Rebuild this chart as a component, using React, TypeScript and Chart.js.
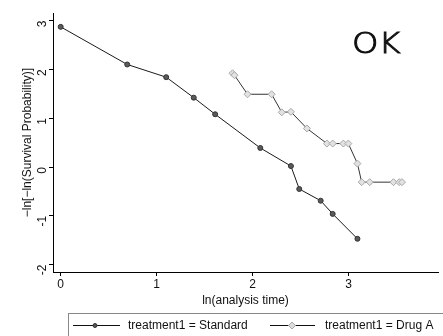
import React, { useEffect, useRef } from "react";
import { Chart, registerables } from "chart.js";

Chart.register(...registerables);

// ---- data ----
const standardX = [0, 0.693, 1.099, 1.386, 1.609, 2.079, 2.398, 2.485, 2.708, 2.833, 3.091];
const standardY = [2.87, 2.1, 1.84, 1.42, 1.08, 0.39, 0.02, -0.45, -0.69, -0.96, -1.47];
const drugX = [1.79, 1.81, 1.946, 2.197, 2.303, 2.398, 2.565, 2.773, 2.833, 2.944, 2.996, 3.091, 3.135, 3.219, 3.466, 3.526, 3.555];
const drugY = [1.92, 1.88, 1.49, 1.49, 1.12, 1.13, 0.79, 0.48, 0.48, 0.48, 0.48, 0.07, -0.31, -0.31, -0.31, -0.31, -0.31];
const xTicks = [0, 1, 2, 3];
const yTicks = [-2, -1, 0, 1, 2, 3];
const seriesLabels = ["treatment1 = Standard", "treatment1 = Drug A"];
const xTitle = "ln(analysis time)";
const yTitle = "\u2212ln[\u2212ln(Survival Probability)]";
const annotationText = "OK";

const FONT = "'Liberation Sans', Arial, Helvetica, sans-serif";

export default function App() {
  const ref = useRef<HTMLCanvasElement | null>(null);

  useEffect(() => {
    document.body.style.margin = "0";
    const canvas = ref.current;
    if (!canvas) return;

    const overlay = {
      id: "overlay",
      afterDraw(chart: any) {
        const ctx = chart.ctx;
        ctx.save();
        // annotation
        ctx.save();
        ctx.fillStyle = "#111";
        ctx.strokeStyle = "#111";
        ctx.lineWidth = 0.9;
        ctx.font = `200 28px 'DejaVu Sans', ${FONT}`;
        ctx.textAlign = "left";
        ctx.textBaseline = "alphabetic";
        ctx.translate(352, 53);
        ctx.scale(1.2, 1);
        ctx.fillText(annotationText, 0, 0);
        ctx.strokeText(annotationText, 0, 0);
        ctx.restore();

        // legend box
        ctx.strokeStyle = "#888";
        ctx.lineWidth = 1;
        ctx.strokeRect(68.5, 313.5, 400, 40);

        const ly = 325.5;
        // Standard entry
        ctx.strokeStyle = "#111";
        ctx.beginPath();
        ctx.moveTo(73, ly);
        ctx.lineTo(120, ly);
        ctx.stroke();
        ctx.fillStyle = "#555";
        ctx.strokeStyle = "#333";
        ctx.beginPath();
        ctx.arc(95, ly, 2, 0, Math.PI * 2);
        ctx.fill();
        ctx.stroke();
        // Drug A entry
        ctx.strokeStyle = "#111";
        ctx.beginPath();
        ctx.moveTo(270, ly);
        ctx.lineTo(315, ly);
        ctx.stroke();
        ctx.fillStyle = "#ddd";
        ctx.strokeStyle = "#aaa";
        ctx.beginPath();
        ctx.moveTo(292, ly - 3.5);
        ctx.lineTo(295.5, ly);
        ctx.lineTo(292, ly + 3.5);
        ctx.lineTo(288.5, ly);
        ctx.closePath();
        ctx.fill();
        ctx.stroke();

        ctx.fillStyle = "#111";
        ctx.font = `12px ${FONT}`;
        ctx.textBaseline = "middle";
        ctx.fillText(seriesLabels[0], 128, ly);
        ctx.fillText(seriesLabels[1], 325, ly);
        ctx.restore();
      },
    };

    const chart = new Chart(canvas, {
      type: "scatter",
      data: {
        datasets: [
          {
            label: seriesLabels[0],
            data: standardX.map((x, i) => ({ x, y: standardY[i] })),
            showLine: true,
            borderColor: "#1a1a1a",
            borderWidth: 1,
            pointStyle: "circle",
            pointRadius: 2.5,
            pointBackgroundColor: "#5a5a5a",
            pointBorderColor: "#333",
            pointBorderWidth: 1,
          },
          {
            label: seriesLabels[1],
            data: drugX.map((x, i) => ({ x, y: drugY[i] })),
            showLine: true,
            borderColor: "#333",
            borderWidth: 1,
            pointStyle: "rectRot",
            pointRadius: 3.5,
            pointBackgroundColor: "#e2e2e2",
            pointBorderColor: "#a8a8a8",
            pointBorderWidth: 1,
          },
        ],
      },
      options: {
        animation: false,
        responsive: false,
        maintainAspectRatio: false,
        layout: { padding: { top: 7, right: 0, bottom: 28, left: 0 } },
        plugins: {
          legend: { display: false },
          tooltip: { enabled: false },
        },
        scales: {
          x: {
            type: "linear",
            min: -0.08,
            max: 3.93,
            afterBuildTicks: (s: any) => {
              s.ticks = xTicks.map((v) => ({ value: v }));
            },
            afterFit: (s: any) => {
              s.height = 36;
            },
            grid: { drawOnChartArea: false, drawTicks: true, tickLength: 4, color: "#000" },
            border: { display: true, color: "#000", width: 1 },
            ticks: {
              color: "#111",
              font: { family: FONT, size: 12 },
              padding: 1,
              maxRotation: 0,
            },
            title: {
              display: true,
              text: xTitle,
              color: "#111",
              font: { family: FONT, size: 12 },
              padding: { top: 0, bottom: 0 },
            },
          },
          y: {
            type: "linear",
            min: -2.15,
            max: 3.15,
            afterBuildTicks: (s: any) => {
              s.ticks = yTicks.map((v) => ({ value: v }));
            },
            afterFit: (s: any) => {
              s.width = 53;
            },
            grid: { drawOnChartArea: false, drawTicks: true, tickLength: 4, color: "#000" },
            border: { display: true, color: "#000", width: 1 },
            ticks: {
              color: "#111",
              font: { family: FONT, size: 12 },
              padding: 6,
              minRotation: 90,
              maxRotation: 90,
            },
            title: {
              display: true,
              text: yTitle,
              color: "#111",
              font: { family: FONT, size: 12 },
              padding: { top: 20, bottom: 0 },
            },
          },
        },
      },
      plugins: [overlay],
    });

    return () => chart.destroy();
  }, []);

  return (
    <div style={{ width: 443, height: 336, position: "relative", background: "#fff" }}>
      <canvas ref={ref} width={443} height={336} style={{ display: "block" }} />
    </div>
  );
}
